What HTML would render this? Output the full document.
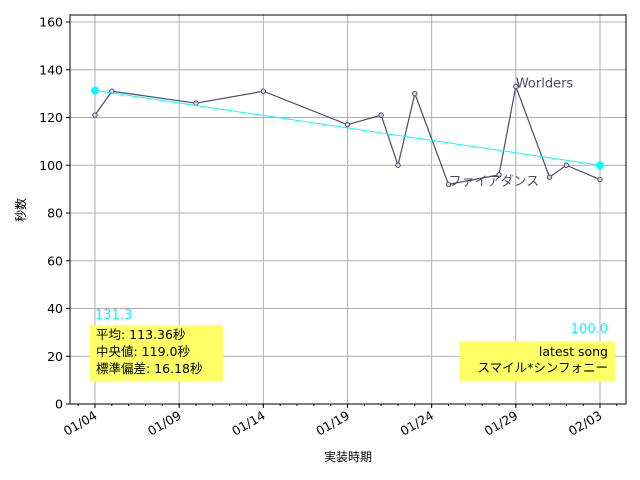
<!DOCTYPE html>
<html><head><meta charset="utf-8"><style>body{margin:0;background:#fff}svg{display:block;font-family:"DejaVu Sans","Noto Sans CJK JP",sans-serif}</style></head>
<body>
<svg id="c" width="640" height="480" viewBox="0 0 640 480"></svg>
<script>
const dayOffsets=[0,1,6,10,15,17,18,19,21,24,25,27,28,30];
const seconds=[121,131,126,131,117,121,100,130,92,96,133,95,100,94];
const xTickDays=[0,5,10,15,20,25,30];
const xTickLabels=["01/04","01/09","01/14","01/19","01/24","01/29","02/03"];
const yTicks=[0,20,40,60,80,100,120,140,160];
const trendValues=[131.3,100.0];
const statsLines=["平均: 113.36秒","中央値: 119.0秒","標準偏差:  16.18秒"];
const annotations=[{i:10,text:"Worlders"},{i:8,text:"ファイアダンス"}];

const L=70,R=626,T=15,B=404;
const X=d=>95+d*(505/30);
const Y=v=>B-v*2.3875;
const svg=document.getElementById('c');
const NS='http://www.w3.org/2000/svg';
function mk(tag,attrs,parent){const e=document.createElementNS(NS,tag);for(const k in attrs)e.setAttribute(k,attrs[k]);(parent||svg).appendChild(e);return e;}

xTickDays.forEach((d,i)=>{
 const g=mk('line',{x1:X(d),x2:X(d),y1:T,y2:B,stroke:'#b0b0b0','stroke-width':1});
 
 
 const t=mk('line',{x1:X(d),x2:X(d),y1:B,y2:B+4,stroke:'#000'});
 
 
 const lb=mk('text',{x:X(d)+3,y:B+14,'font-size':12.5,'text-anchor':'end',transform:`rotate(-30 ${X(d)+3} ${B+14})`});
 lb.textContent=xTickLabels[i];
 
 
});
for(let d=-1;d<=31;d++){const x=X(d);if(x<L||x>R)continue;
 const m=mk('line',{x1:x,x2:x,y1:B,y2:B+2,stroke:'#000'});
 
 }
yTicks.forEach(v=>{
 const g=mk('line',{x1:L,x2:R,y1:Y(v),y2:Y(v),stroke:'#b0b0b0','stroke-width':1});
 
 
 const t=mk('line',{x1:L-4,x2:L,y1:Y(v),y2:Y(v),stroke:'#000'});
 
 
 const lb=mk('text',{x:L-7,y:Y(v)+4.5,'font-size':12.5,'text-anchor':'end'});
 lb.textContent=v;
 
 
});
const fr=mk('rect',{x:L,y:T,width:R-L,height:B-T,fill:'none',stroke:'#000','stroke-width':1});



const pl=mk('polyline',{points:dayOffsets.map((d,i)=>X(d)+','+Y(seconds[i])).join(' '),fill:'none',stroke:'#4a4a6a','stroke-width':1.2});


dayOffsets.forEach((d,i)=>{
 const c=mk('circle',{cx:X(d),cy:Y(seconds[i]),r:2.2,fill:'#d8d8e8',stroke:'#4a4a6a','stroke-width':1});
 
 
});
const d0=dayOffsets[0],d1=dayOffsets[dayOffsets.length-1];
const tl=mk('line',{x1:X(d0),y1:Y(trendValues[0]),x2:X(d1),y2:Y(trendValues[1]),stroke:'#00ffff','stroke-width':1});


[[d0,trendValues[0]],[d1,trendValues[1]]].forEach(([d,v])=>{
 const c=mk('circle',{cx:X(d),cy:Y(v),r:4,fill:'#00ffff'});
 
 
});
const ts=mk('text',{x:X(d0),y:319,'font-size':13,fill:'#00ffff'});ts.textContent=trendValues[0].toFixed(1);


const te=mk('text',{x:X(d1)+8,y:333,'font-size':13,fill:'#00ffff','text-anchor':'end'});te.textContent=trendValues[1].toFixed(1);



annotations.forEach(a=>{
 const t=mk('text',{x:X(dayOffsets[a.i]),y:Y(seconds[a.i])+1,'font-size':13,fill:'#4a4a6a'});
 t.textContent=a.text;
 
 
});

const sb=mk('rect',{x:90,y:325,width:133,height:56,fill:'#ffff66'});


statsLines.forEach((s,i)=>{const t=mk('text',{x:96,y:339+i*17,'font-size':12.5});t.textContent=s;
 
 });
const lb2=mk('rect',{x:459,y:341,width:156,height:40,fill:'#ffff66'});


['latest song','スマイル*シンフォニー'].forEach((s,i)=>{const t=mk('text',{x:608,y:356+i*16,'font-size':12.5,'text-anchor':'end'});t.textContent=s;
 
 });

const xt=mk('text',{x:348,y:461,'font-size':12,'text-anchor':'middle'});xt.textContent='実装時期';


const yt=mk('text',{x:25,y:210,'font-size':12,'text-anchor':'middle',transform:'rotate(-90 25 210)'});yt.textContent='秒数';


</script>
</body></html>
